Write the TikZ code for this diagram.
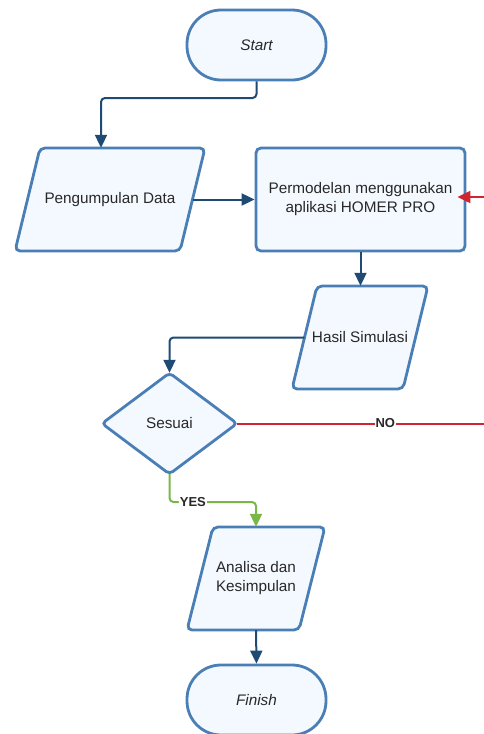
\documentclass[tikz,border=0pt]{standalone}
\usepackage{fontspec}
\setmainfont{Liberation Sans}
\usetikzlibrary{arrows.meta,calc}
\definecolor{bordc}{HTML}{4A7FB5}
\definecolor{fillc}{HTML}{F4F9FF}
\definecolor{conncol}{HTML}{1F4A73}
\definecolor{redc}{HTML}{D0242F}
\definecolor{greenc}{HTML}{7AB648}
\definecolor{txtc}{HTML}{282828}
\begin{document}
\begin{tikzpicture}[x=1pt,y=-1pt,
  shapeline/.style={draw=bordc, fill=fillc, line width=2.8pt, rounded corners=5pt},
  terminal/.style={draw=bordc, fill=fillc, line width=2.8pt, rounded corners=34pt,
    minimum width=139pt, minimum height=70pt, text=txtc,
    font=\itshape\fontsize{15.3}{19}\selectfont},
  lbl/.style={font=\fontsize{15.3}{19}\selectfont, text=txtc, align=center, inner sep=0pt},
  procbox/.style={draw=bordc, fill=fillc, line width=2.8pt, rounded corners=5pt,
    minimum width=209pt, minimum height=103pt, text=txtc, align=center,
    font=\fontsize{15.3}{19}\selectfont},
  conn/.style={draw=conncol, line width=2pt, rounded corners=4pt,
    -{Triangle[length=13pt,width=12pt]}},
  redconn/.style={draw=redc, line width=2pt, -{Triangle[length=13pt,width=12pt]}},
  redline/.style={draw=redc, line width=2pt},
  greenconn/.style={draw=greenc, line width=2pt, rounded corners=4pt,
    -{Triangle[length=13pt,width=12pt]}},
  edgelbl/.style={fill=white, inner sep=1pt, text=txtc, font=\bfseries\fontsize{13}{15}\selectfont},
]
\useasboundingbox (0,0) rectangle (484,734);

% Start
\node[terminal] (start) at (256.5,45) {Start};

% Pengumpulan Data
\draw[shapeline] (40,148) -- (205,148) -- (180,251) -- (15,251) -- cycle;
\node[lbl, minimum width=165pt, minimum height=103pt] (pd) at (110,199.5) {Pengumpulan Data};

% HOMER
\node[procbox] (homer) at (360.5,199.5) {Permodelan menggunakan\\aplikasi HOMER PRO};

% Hasil Simulasi
\draw[shapeline] (317,286) -- (428,286) -- (403,389) -- (292,389) -- cycle;
\node[lbl, minimum width=111pt, minimum height=103pt] (hs) at (360,337.5) {Hasil Simulasi};

% Sesuai diamond
\draw[shapeline, rounded corners=4pt] (169.5,373) -- (237,423.5) -- (169.5,474) -- (102,423.5) -- cycle;
\node[lbl, minimum width=135pt, minimum height=101pt] (ses) at (169.5,423.5) {Sesuai};

% Analisa
\draw[shapeline] (213,527) -- (325,527) -- (299,630) -- (187,630) -- cycle;
\node[lbl, minimum width=112pt, minimum height=103pt] (an) at (256,578.5) {Analisa dan\\Kesimpulan};

% Finish
\node[terminal] (fin) at (256.5,700) {Finish};

% connectors
\coordinate (k1) at (101,98);
\draw[conn] (start.south) |- (k1) -- (k1 |- pd.north);
\draw[conn] (pd.east) -- (homer.west);
\coordinate (rin) at (484,197);
\draw[redconn] (rin) -- ($(rin -| homer.east)+(-9,0)$);
\draw[conn] (homer.south) -- (homer.south |- hs.north);
\draw[conn] (hs.west) -| (ses.north);
\coordinate (nout) at (484,423.5);
\draw[redline] (ses.east) -- node[edgelbl, pos=0.6] {NO} (nout);
\coordinate (ky) at (169.5,502);
\draw[greenconn] (ses.south) -- (ky) -- node[edgelbl, pos=0.27] {YES} (ky -| an.north) -- (an.north);
\draw[conn] (an.south) -- (fin.north);
\end{tikzpicture}
\end{document}
